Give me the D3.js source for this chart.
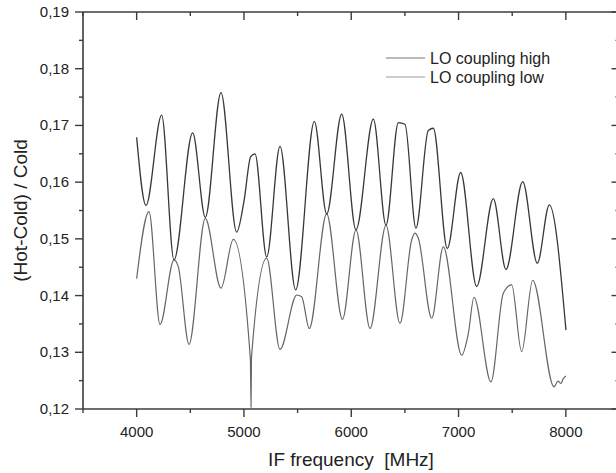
<!DOCTYPE html>
<html><head><meta charset="utf-8">
<script src="https://cdn.jsdelivr.net/npm/d3@7"></script>
<style>html,body{margin:0;padding:0;background:#fff;} svg{display:block;font-family:"Liberation Sans",Arial,sans-serif;} text{white-space:pre;}</style>
</head><body><svg id="c" width="616" height="473"></svg>
<script>
const seriesNames = ["LO coupling high", "LO coupling low"];
const xTicks = [4000, 5000, 6000, 7000, 8000];
const yTicks = [0.12, 0.13, 0.14, 0.15, 0.16, 0.17, 0.18, 0.19];
const highFreq = [4000,4087,4233,4348,4522,4640,4786,4932,5000,5063,5103,5212,5336,5482,5656,5771,5911,6044,6206,6324,6439,6501,6603,6718,6765,6895,7020,7169,7324,7442,7598,7734,7846,8001];
const highVal  = [0.1679,0.1559,0.1718,0.1463,0.1687,0.1538,0.1758,0.1512,0.1566,0.1645,0.1650,0.1468,0.1663,0.1410,0.1707,0.1544,0.1720,0.1516,0.1711,0.1524,0.1705,0.1702,0.1519,0.1691,0.1695,0.1483,0.1617,0.1416,0.1571,0.1446,0.1601,0.1457,0.1560,0.1339];
const lowFreq = [4000,4115,4218,4348,4388,4488,4640,4786,4901,5060,5066,5070,5212,5336,5492,5538,5609,5771,5918,6044,6175,6324,6454,6563,6594,6625,6750,6858,7029,7091,7144,7302,7417,7495,7588,7691,7890,7927,7955,7974,8001];
const lowVal  = [0.1430,0.1548,0.1349,0.1463,0.1451,0.1314,0.1536,0.1413,0.1499,0.1288,0.1203,0.1290,0.1466,0.1305,0.1401,0.1398,0.1342,0.1544,0.1358,0.1516,0.1342,0.1524,0.1351,0.1498,0.1510,0.1501,0.1360,0.1486,0.1295,0.1333,0.1397,0.1248,0.1404,0.1419,0.1301,0.1427,0.1239,0.1249,0.1245,0.1253,0.1258];

const svg = d3.select("#c");
const L = 83, R = 619.5, T = 12, B = 409;
const x = d3.scaleLinear().domain([3500, 8500]).range([L, R]);
const y = d3.scaleLinear().domain([0.12, 0.19]).range([B, T]);
const axisColor = "#3c3c3c", textColor = "#222";
const fmt = d => d3.format(".2f")(d).replace(".", ",");
const minorX = d3.range(3500, 8501, 500);
const minorY = d3.range(0, 15).map(i => 0.12 + i * 0.005);

// frame lines
const g = svg.append("g");
g.append("line").attr("x1", L).attr("x2", R).attr("y1", B).attr("y2", B);
g.append("line").attr("x1", L).attr("x2", R).attr("y1", T).attr("y2", T);
g.append("line").attr("x1", L).attr("x2", L).attr("y1", T).attr("y2", B);
g.append("line").attr("x1", R).attr("x2", R).attr("y1", T).attr("y2", B);
g.selectAll("line").attr("stroke", axisColor).attr("stroke-width", 1.6);

// ticks
function isMajorX(v){ return v % 1000 === 0; }
function isMajorY(v){ return Math.abs(Math.round(v*100) - v*100) < 1e-6; }
const tk = svg.append("g").attr("stroke", axisColor).attr("stroke-width", 1.4);
minorX.forEach(v => {
  const len = isMajorX(v) ? 8 : 4;
  tk.append("line").attr("x1", x(v)).attr("x2", x(v)).attr("y1", B).attr("y2", B + len);
  tk.append("line").attr("x1", x(v)).attr("x2", x(v)).attr("y1", T).attr("y2", T + len);
});
minorY.forEach(v => {
  const len = isMajorY(v) ? 8 : 4;
  tk.append("line").attr("y1", y(v)).attr("y2", y(v)).attr("x1", L).attr("x2", L - len);
  tk.append("line").attr("y1", y(v)).attr("y2", y(v)).attr("x1", R).attr("x2", R - len);
});

// tick labels
svg.append("g").selectAll("text").data(xTicks).join("text")
  .attr("x", d => x(d)).attr("y", 437).attr("text-anchor", "middle")
  .attr("font-size", 15).attr("fill", textColor).text(d => d);
svg.append("g").selectAll("text").data(yTicks).join("text")
  .attr("x", 69).attr("y", d => y(d) + 5).attr("text-anchor", "end")
  .attr("font-size", 15).attr("fill", textColor).text(fmt);

// axis titles
svg.append("text").attr("x", 351).attr("y", 466).attr("text-anchor", "middle")
  .attr("font-size", 19).attr("fill", textColor).text("IF frequency  [MHz]");
svg.append("text").attr("transform", "translate(27," + ((T+B)/2) + ") rotate(-90)")
  .attr("text-anchor", "middle").attr("font-size", 19).attr("fill", textColor)
  .text("(Hot-Cold) / Cold");

// data lines
const line = d3.line().x(d => x(d[0])).y(d => y(d[1])).curve(d3.curveMonotoneX);
const highData = highFreq.map((f, i) => [f, highVal[i]]);
const lowData = lowFreq.map((f, i) => [f, lowVal[i]]);
svg.append("path").datum(lowData).attr("d", line).attr("fill", "none")
  .attr("stroke", "#666").attr("stroke-width", 1.2);
svg.append("path").datum(highData).attr("d", line).attr("fill", "none")
  .attr("stroke", "#383838").attr("stroke-width", 1.3);

// legend
const leg = svg.append("g");
[58, 77].forEach((yy, i) => {
  leg.append("line").attr("x1", 386).attr("x2", 425).attr("y1", yy).attr("y2", yy)
    .attr("stroke", i === 0 ? "#777" : "#999").attr("stroke-width", 1.1);
  leg.append("text").attr("x", 430).attr("y", yy + 5.5).attr("font-size", 16)
    .attr("fill", textColor).text(seriesNames[i]);
});
</script></body></html>
